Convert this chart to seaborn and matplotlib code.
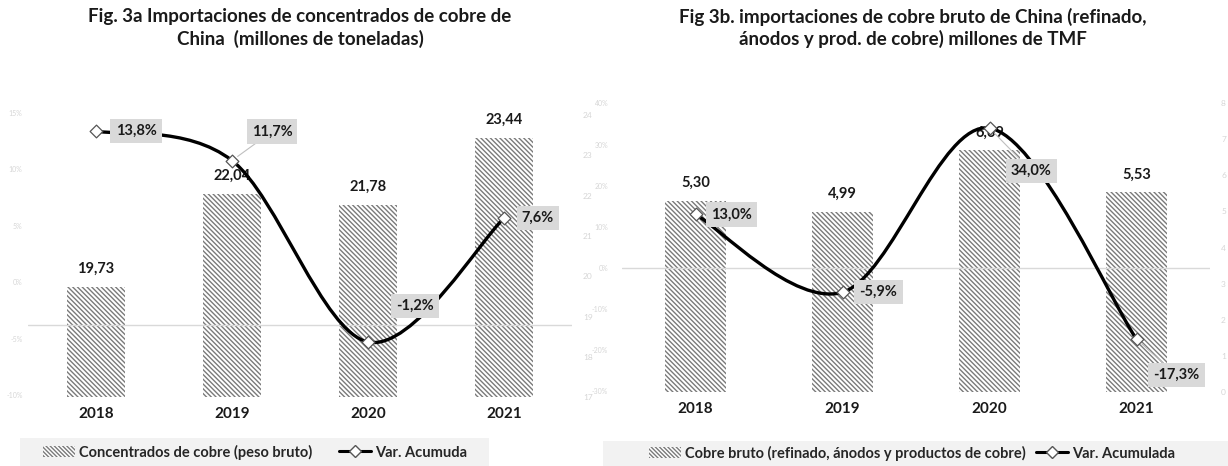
import numpy as np
import pandas as pd
import matplotlib
matplotlib.use("Agg")
import matplotlib.pyplot as plt
import seaborn as sns
from matplotlib.path import Path
from matplotlib.patches import PathPatch, Patch, Rectangle
from matplotlib.lines import Line2D

# ---------------- data ----------------
years = ["2018", "2019", "2020", "2021"]
conc_values = [19.73, 22.04, 21.78, 23.44]          # Fig 3a bars (Mt)
conc_var = [13.8, 11.7, -1.2, 7.6]                  # Fig 3a line (%)
bruto_values = [5.30, 4.99, 6.69, 5.53]             # Fig 3b bars (Mt TMF)
bruto_var = [13.0, -5.9, 34.0, -17.3]               # Fig 3b line (%)

ghost_ticks_a = [-10, -5, 0, 5, 10, 15]
bar_ticks_a = [17, 18, 19, 20, 21, 22, 23, 24]
pct_ticks_b = [-30, -20, -10, 0, 10, 20, 30, 40]
bar_ticks_b = [0, 1, 2, 3, 4, 5, 6, 7, 8]

title_a = "Fig. 3a Importaciones de concentrados de cobre de\nChina  (millones de toneladas)"
title_b = "Fig 3b. importaciones de cobre bruto de China (refinado,\nánodos y prod. de cobre) millones de TMF"
legend_a = ["Concentrados de cobre (peso bruto)", "Var. Acumuda"]
legend_b = ["Cobre bruto (refinado, ánodos y productos de cobre)", "Var. Acumulada"]

# ---------------- style ----------------
sns.set_theme(style="white")
FONT = ["Lato", "DejaVu Sans"]
plt.rcParams["font.family"] = FONT
plt.rcParams["hatch.linewidth"] = 1.0
HATCH = "\\" * 7
HATCH_COL = "#7a7a7a"
FAINT = "#d6d6d6"
BOX = "#d9d9d9"
TXT = "#1a1a1a"

W, H = 1228, 466
fig = plt.figure(figsize=(W / 100, H / 100), dpi=100)
fig.patch.set_facecolor("white")


def rect(x0, x1, ytop, ybot):
    return [x0 / W, 1 - ybot / H, (x1 - x0) / W, (ybot - ytop) / H]


def fmt(v, nd):
    return f"{v:.{nd}f}".replace(".", ",")


def smooth_path(xs, ys):
    pts = np.column_stack([xs, ys]).astype(float)
    n = len(pts)
    verts = [pts[0]]
    codes = [Path.MOVETO]
    for i in range(n - 1):
        p0 = pts[i - 1] if i > 0 else pts[i]
        p1 = pts[i]
        p2 = pts[i + 1]
        p3 = pts[i + 2] if i + 2 < n else pts[i + 1]
        c1 = p1 + (p2 - p0) / 6.0
        c2 = p2 - (p3 - p1) / 6.0
        verts += [c1, c2, p2]
        codes += [Path.CURVE4] * 3
    return Path(verts, codes)


def clean(ax):
    for s in ax.spines.values():
        s.set_visible(False)
    ax.tick_params(length=0)
    ax.set_xlabel("")
    ax.set_ylabel("")
    ax.grid(False)


def panel(r, values, var, bar_ylim, bar_ticks, line_ylim, val_off, pct_offs,
          pct_ticks, bar_pad, pct_pad):
    ax = fig.add_axes(r)
    df = pd.DataFrame({"year": years, "value": values})
    sns.barplot(data=df, x="year", y="value", ax=ax, color="white",
                width=0.42, linewidth=0, saturation=1)
    for b in ax.patches:
        b.set_hatch(HATCH)
        b.set_edgecolor(HATCH_COL)
        b.set_facecolor("white")
        b.set_linewidth(0)
    ax.set_ylim(*bar_ylim)
    ax.set_xlim(-0.5, 3.5)
    ax.set_facecolor("none")
    clean(ax)
    ax.set_xticks(range(len(years)))
    ax.set_xticklabels(years, fontsize=11, fontweight="bold", color=TXT)
    ax.tick_params(axis="x", pad=7)
    for i, v in enumerate(values):
        ax.annotate(fmt(v, 2), xy=(i, v), xytext=(0, val_off),
                    textcoords="offset pixels", ha="center", va="center",
                    fontsize=10.5, fontweight="bold", color=TXT)

    ax2 = ax.twinx()
    # bar value axis shown on the right (after twinx, which resets sides)
    ax.yaxis.tick_right()
    ax.set_yticks(bar_ticks)
    ax.set_yticklabels([str(t) for t in bar_ticks], color=FAINT, fontsize=6)
    ax.tick_params(axis="y", pad=bar_pad, length=0)

    ax2.set_ylim(*line_ylim)
    ax2.set_xlim(-0.5, 3.5)
    clean(ax2)
    ax2.axhline(0, color="#d9d9d9", lw=1.0, zorder=1)
    if pct_ticks is None:
        ax2.set_yticks([])
    else:
        ax2.yaxis.tick_left()
        ax2.set_yticks(pct_ticks)
        ax2.set_yticklabels([f"{t}%" for t in pct_ticks], color=FAINT, fontsize=5)
        ax2.tick_params(axis="y", pad=pct_pad, length=0)
    ax2.add_patch(PathPatch(smooth_path(range(len(var)), var), fill=False,
                            lw=2.4, edgecolor="black", zorder=3,
                            capstyle="round"))
    sns.scatterplot(x=list(range(len(var))), y=var, ax=ax2, marker="D", s=42,
                    color="white", edgecolor="#555555", linewidth=0.9,
                    zorder=4, legend=False)
    ax2.set_xlabel("")
    ax2.set_ylabel("")
    for i, (v, off) in enumerate(zip(var, pct_offs)):
        dx, dy, lead = off
        ax2.annotate(fmt(v, 1) + "%", xy=(i, v), xytext=(dx, dy),
                     textcoords="offset pixels", ha="center", va="center",
                     fontsize=10.5, fontweight="bold", color=TXT,
                     bbox=dict(boxstyle="square,pad=0.35", fc=BOX, ec="none"),
                     arrowprops=(dict(arrowstyle="-", color="#bfbfbf", lw=0.8,
                                      shrinkA=0, shrinkB=5) if lead else None),
                     zorder=6)
    return ax, ax2


# ---------- panel a ----------
ra = rect(28, 572, 75, 397)
# faint left percentage labels of the original picture
gax = fig.add_axes(ra)
gax.set_ylim(-10.18, 18.37)
gax.set_facecolor("none")
gax.set_xticks([])
clean(gax)
gax.set_yticks(ghost_ticks_a)
gax.set_yticklabels([f"{t}%" for t in ghost_ticks_a], color=FAINT, fontsize=5)
gax.tick_params(axis="y", pad=4, length=0)

ax_a, ax_a2 = panel(ra, conc_values, conc_var, (17, 25), bar_ticks_a,
                    (-5.11, 17.78), 18,
                    [(40, 0, False), (40, 29, True), (47, 36, False), (34, 0, False)],
                    None, 8, 0)

# ---------- panel b ----------
rb = rect(622, 1210, 75, 392)
ax_b, ax_b2 = panel(rb, bruto_values, bruto_var, (0, 8.78), bar_ticks_b,
                    (-30.14, 46.9), 18,
                    [(36, 0, False), (36, 0, False), (42, -43, True), (40, -36, True)],
                    pct_ticks_b, 8, 10)

# ---------- titles ----------
fig.text(300 / W, 1 - 28 / H, title_a, ha="center", va="center",
         fontsize=13.5, fontweight="bold", color=TXT, linespacing=1.3)
fig.text(913 / W, 1 - 28 / H, title_b, ha="center", va="center",
         fontsize=13.5, fontweight="bold", color=TXT, linespacing=1.3)

# ---------- legends ----------
fig.patches.append(Rectangle((20 / W, 0), 469 / W, 28 / H, transform=fig.transFigure,
                             fc="#f2f2f2", ec="none", zorder=0))
fig.patches.append(Rectangle((603 / W, 0), 625 / W, 25 / H, transform=fig.transFigure,
                             fc="#f2f2f2", ec="none", zorder=0))


def handles():
    p = Patch(facecolor="white", edgecolor=HATCH_COL, hatch="\\" * 8, lw=0)
    l = Line2D([], [], color="black", lw=2.2, marker="D", ms=6,
               markerfacecolor="white", markeredgecolor="#555555")
    return [p, l]


fig.legend(handles(), legend_a, loc="center", bbox_to_anchor=(255 / W, 1 - 452 / H),
           ncol=2, frameon=False, handlelength=2.2, handleheight=0.7,
           handletextpad=0.3, columnspacing=1.8,
           prop=dict(family=FONT, weight="bold", size=10.5))
fig.legend(handles(), legend_b, loc="center", bbox_to_anchor=(912 / W, 1 - 453 / H),
           ncol=2, frameon=False, handlelength=2.2, handleheight=0.7,
           handletextpad=0.3, columnspacing=0.7,
           prop=dict(family=FONT, weight="bold", size=10.5))

fig.savefig("out.png", dpi=100, facecolor="white")
